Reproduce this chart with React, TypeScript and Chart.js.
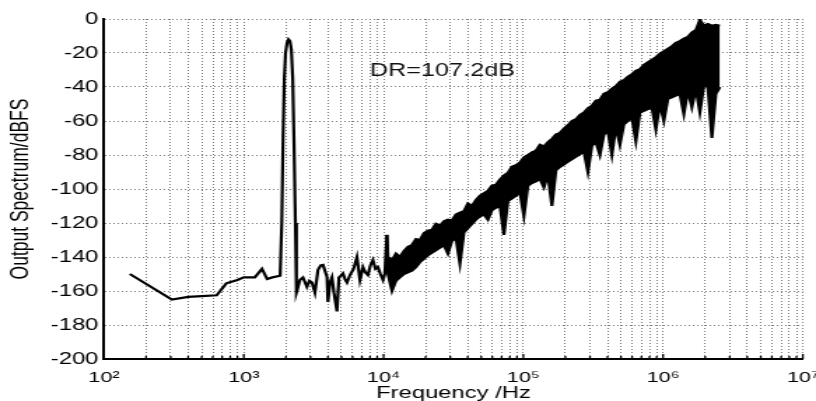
import React, { useEffect, useRef } from 'react';
import { Chart, registerables } from 'chart.js';

Chart.register(...registerables);

// ---------- data ----------
const lowFreqs = [
  153, 306, 400, 500, 640, 750, 900, 1000, 1200, 1350, 1470, 1600, 1820,
  1870, 1910, 1950, 1990, 2040, 2090, 2140, 2190, 2240, 2290, 2340, 2380,
  2400, 2520, 2650, 2830, 2950, 3075, 3230, 3395, 3550, 3690, 3940, 4000,
  4140, 4275, 4416, 4643, 4797, 4950, 5126, 5300, 5475, 5750, 6100, 6452,
  6778, 7124, 7400, 7732, 8050, 8397, 8750, 9118, 9500, 9905, 10200, 10570,
];
const lowValues = [
  -150, -165, -163.5, -163, -162.5, -155.5, -153.5, -152, -152, -147, -153, -152, -151,
  -120, -70, -35, -20, -14, -12, -13, -18, -35, -75, -120, -161,
  -160, -153.5, -152, -157.6, -154, -155, -161, -147.6, -145, -144.7, -151.8, -166.5,
  -155, -152, -161, -172, -152, -151, -149.7, -153, -155, -150.6, -147, -140,
  -153.5, -146, -149, -150.6, -145, -141.8, -147, -146, -150, -153.5, -150, -127,
];

const bandFreqs = [
  10752, 11484, 12266, 13101, 13993, 14946, 15964, 17051, 18212, 19452,
  20777, 22192, 23703, 25317, 27041, 28883, 30850, 32950, 35194, 37591,
  40151, 42885, 45806, 48925, 52257, 55815, 59616, 63676, 68012, 72644,
  77591, 82875, 88519, 94547, 100985, 107862, 115207, 123053, 131433, 140383,
  149943, 160154, 171060, 182709, 195151, 208441, 222635, 237796, 253990, 271286,
  289760, 309492, 330568, 353079, 377123, 402805, 430235, 459533, 490826, 524250,
  559950, 598082, 638811, 682313, 728777, 778406, 831414, 888032, 948506, 1013098,
  1082088, 1155776, 1234482, 1318548, 1408339, 1504245, 1606682, 1716095, 1832958, 1957779,
  2091100, 2233500, 2385598, 2548054,
];
const bandUpper = [
  -140, -142, -138, -140, -136.5, -134, -133, -129.5, -130, -126,
  -124.5, -124, -120.5, -121.5, -119, -118, -118.5, -115, -114, -113,
  -108.5, -110, -106.5, -104, -102.5, -101, -98, -97.5, -94.5, -92,
  -90.5, -87, -86, -84.5, -81.5, -80, -78.5, -77.5, -74, -75,
  -72.5, -70.5, -68, -67, -64.5, -62.5, -60, -59, -56.5, -55,
  -52.5, -51, -48, -47.5, -44, -43, -41, -39.5, -37, -36,
  -34, -32.5, -30.5, -29.5, -27, -25.5, -24, -22.5, -20.5, -19,
  -17.5, -16, -14, -13, -11.5, -10.5, -8, -6.5, -0.5, -4,
  -3, -4, -3.5, -4,
];
const bandLower = [
  -150, -160, -154, -152, -150, -149, -148, -146, -143, -141,
  -139, -137.5, -136, -134.5, -133, -138, -130.5, -129, -144, -125.5,
  -123, -120.5, -118, -116, -115, -118, -112.5, -111, -110, -127,
  -107, -105.5, -104, -102, -116, -98, -96.5, -95.5, -94, -99,
  -91.5, -110, -89, -87, -85.5, -84, -82.5, -81, -79.5, -78,
  -90, -74.5, -72.5, -80, -68, -66, -80, -63.5, -74, -62,
  -60, -58, -72, -55, -54, -53, -52, -65, -50, -60,
  -47, -46, -45, -44, -56, -42, -52, -41, -55, -39,
  -40, -70, -44, -40,
];

const xTickLabels = ['10\u00B2', '10\u00B3', '10\u2074', '10\u2075', '10\u2076', '10\u2077'];
const xTickExponents = [2, 3, 4, 5, 6, 7];
const yTicks = [0, -20, -40, -60, -80, -100, -120, -140, -160, -180, -200];

const xTitle = 'Frequency /Hz';
const yTitle = 'Output Spectrum/dBFS';
const annotationText = 'DR=107.2dB';
const annotationFreq = 8000;
const annotationDb = -33.5;

// ---------- chart ----------
const FONT = '"Liberation Sans", Arial, Helvetica, sans-serif';

const isPow10 = (v: number) => {
  const l = Math.log10(v);
  return Math.abs(l - Math.round(l)) < 1e-9;
};

const innerTicks = {
  id: 'innerTicks',
  afterDatasetsDraw(chart: any) {
    const { ctx, chartArea, scales } = chart;
    const x = scales.x;
    ctx.save();
    ctx.strokeStyle = '#000';
    ctx.lineWidth = 1.3;
    x.ticks.forEach((t: any) => {
      const px = x.getPixelForValue(t.value);
      const len = isPow10(t.value) ? 5 : 3;
      ctx.beginPath();
      ctx.moveTo(px, chartArea.bottom);
      ctx.lineTo(px, chartArea.bottom - len);
      ctx.stroke();
    });
    ctx.restore();
  },
};

const annotation = {
  id: 'drAnnotation',
  afterDatasetsDraw(chart: any) {
    const { ctx, scales } = chart;
    const px = scales.x.getPixelForValue(annotationFreq);
    const py = scales.y.getPixelForValue(annotationDb);
    ctx.save();
    ctx.font = `18px ${FONT}`;
    ctx.fillStyle = '#111';
    ctx.textAlign = 'left';
    ctx.textBaseline = 'alphabetic';
    ctx.fillText(annotationText, px, py);
    ctx.restore();
  },
};

export default function App() {
  const ref = useRef<HTMLCanvasElement | null>(null);

  useEffect(() => {
    if (!ref.current) return;
    const upperValues = [...lowValues, ...bandUpper];
    const upper = [...lowFreqs, ...bandFreqs].map((f, i) => ({ x: f, y: upperValues[i] }));
    const lowerValues = [lowValues[lowValues.length - 1], ...bandLower];
    const lower = [lowFreqs[lowFreqs.length - 1], ...bandFreqs].map((f, i) => ({ x: f, y: lowerValues[i] }));

    const gridColor = '#7a7a7a';

    const chart = new Chart(ref.current, {
      type: 'line',
      data: {
        datasets: [
          {
            data: upper,
            borderColor: '#000',
            borderWidth: 2.2,
            pointRadius: 0,
            fill: false,
            tension: 0,
          },
          {
            data: lower,
            borderColor: '#000',
            borderWidth: 2.2,
            pointRadius: 0,
            backgroundColor: '#000',
            fill: '-1',
            tension: 0,
          },
        ],
      },
      options: {
        animation: false,
        responsive: false,
        devicePixelRatio: 1,
        layout: { padding: { top: 19, right: 9.4, bottom: 0, left: 0 } },
        plugins: {
          legend: { display: false },
          tooltip: { enabled: false },
        },
        scales: {
          x: {
            type: 'logarithmic',
            position: 'bottom',
            min: 100,
            max: 1e7,
            grid: { color: gridColor, lineWidth: 1, drawTicks: false },
            border: { display: true, color: '#000', width: 2, dash: [1, 2] },
            ticks: {
              autoSkip: false,
              maxRotation: 0,
              minRotation: 0,
              padding: 9,
              color: '#000',
              font: { family: FONT, size: 15.5 },
              callback: (value: any) => {
                const v = Number(value);
                if (!isPow10(v)) return '';
                const idx = xTickExponents.indexOf(Math.round(Math.log10(v)));
                return idx >= 0 ? xTickLabels[idx] : '';
              },
            },
            title: {
              display: true,
              text: xTitle,
              color: '#000',
              font: { family: FONT, size: 17, lineHeight: 0.88 },
              padding: { top: 0, bottom: 0 },
            },
            afterBuildTicks: (s: any) => {
              s.ticks = s.ticks.filter((t: any) => {
                const m = t.value / Math.pow(10, Math.floor(Math.log10(t.value) + 1e-9));
                return Math.abs(m - Math.round(m)) < 1e-6;
              });
            },
            afterFit: (s: any) => {
              s.height = 42;
              s.paddingLeft = 0;
              s.paddingRight = 0;
            },
          },
          y: {
            type: 'linear',
            min: -200,
            max: 0,
            grid: { color: gridColor, lineWidth: 1, drawTicks: false },
            border: { display: true, color: '#000', width: 2, dash: [1, 2] },
            ticks: {
              stepSize: 20,
              padding: 4,
              color: '#000',
              font: { family: FONT, size: 17 },
              callback: (value: any) => {
                const v = Number(value);
                return yTicks.includes(v) ? String(v) : '';
              },
            },
            title: {
              display: true,
              text: yTitle,
              color: '#000',
              font: { family: FONT, size: 17.5 },
              padding: { top: 4.5, bottom: 0 },
            },
            afterFit: (s: any) => {
              s.width = 74.3;
              s.paddingTop = 0;
              s.paddingBottom = 0;
            },
          },
        },
      } as any,
      plugins: [innerTicks, annotation],
    });

    return () => chart.destroy();
  }, []);

  return (
    <div style={{ position: 'absolute', left: 0, top: 0 }}>
      <canvas
        ref={ref}
        width={583}
        height={401}
        style={{ width: '816px', height: '401px', display: 'block' }}
      />
    </div>
  );
}
